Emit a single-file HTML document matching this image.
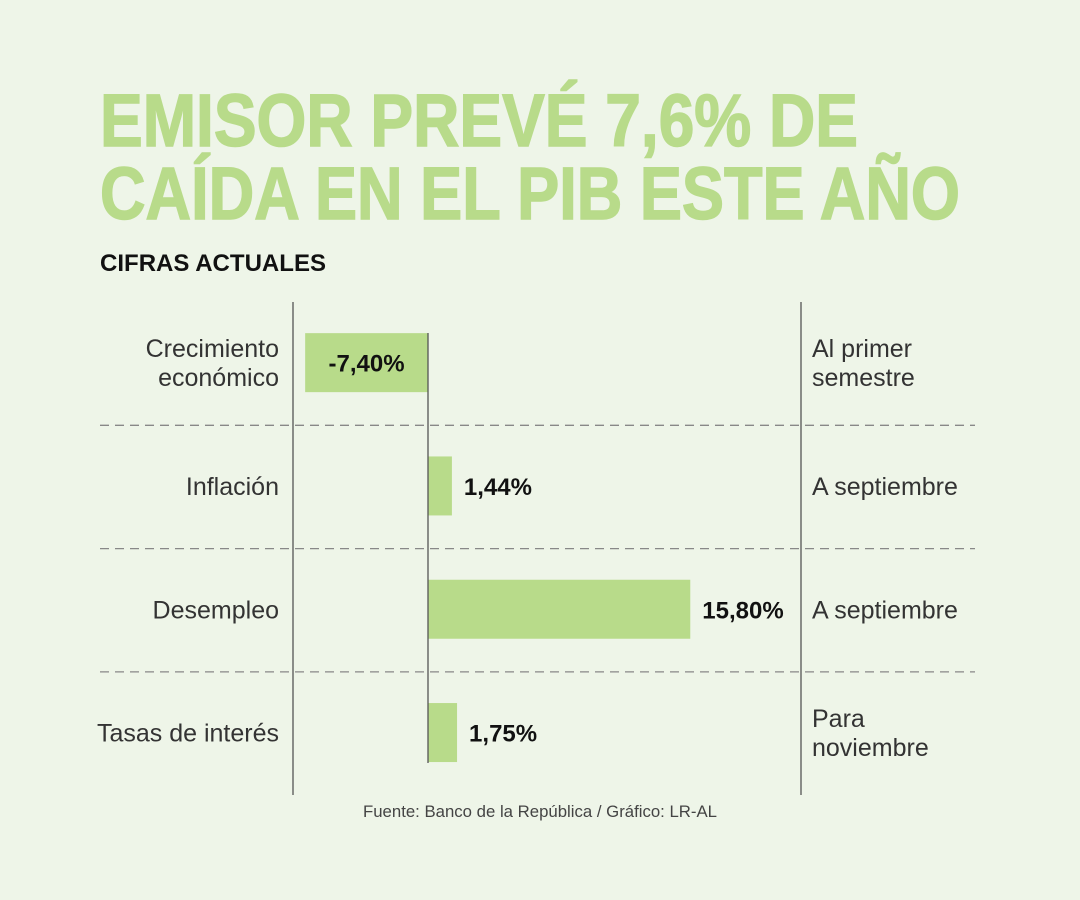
<!DOCTYPE html>
<html><head><meta charset="utf-8"><style>
body{margin:0;background:#eef5e8;}
svg{display:block;font-family:"Liberation Sans",sans-serif;}
</style></head><body>
<svg width="1080" height="900" viewBox="0 0 1080 900">
<rect width="1080" height="900" fill="#eef5e8"/>
<text x="100" y="146" font-size="74" font-weight="bold" fill="#b8db8a" stroke="#b8db8a" stroke-width="1.5" textLength="758" lengthAdjust="spacingAndGlyphs">EMISOR PREVÉ 7,6% DE</text>
<text x="100" y="219" font-size="74" font-weight="bold" fill="#b8db8a" stroke="#b8db8a" stroke-width="1.5" textLength="860" lengthAdjust="spacingAndGlyphs">CAÍDA EN EL PIB ESTE AÑO</text>
<text x="100" y="271" font-size="24" font-weight="bold" fill="#111" textLength="226" lengthAdjust="spacingAndGlyphs">CIFRAS ACTUALES</text>
<g id="grid"></g>
<g id="bars"></g>
<text x="540" y="817" font-size="17" fill="#444" text-anchor="middle" textLength="354" lengthAdjust="spacingAndGlyphs">Fuente: Banco de la República / Gráfico: LR-AL</text>
</svg>
<script>
const categories=[["Crecimiento","económico"],["Inflación"],["Desempleo"],["Tasas de interés"]];
const values=[-7.40,1.44,15.80,1.75];
const valueLabels=["-7,40%","1,44%","15,80%","1,75%"];
const notes=[["Al primer","semestre"],["A septiembre"],["A septiembre"],["Para","noviembre"]];
const NS="http://www.w3.org/2000/svg";
const x0=428, scale=16.6, rowTop=302, rowH=123.3, barH=59;
const xs=v=>x0+v*scale;
const grid=document.getElementById('grid'), bars=document.getElementById('bars');
function mk(tag,attrs,parent,txt){const e=document.createElementNS(NS,tag);for(const k in attrs)e.setAttribute(k,attrs[k]);if(txt!==undefined)e.textContent=txt;parent.appendChild(e);return e;}
let l=mk('line',{x1:293,x2:293,y1:302,y2:795,stroke:'#555','stroke-width':1.3},grid);


l=mk('line',{x1:801,x2:801,y1:302,y2:795,stroke:'#555','stroke-width':1.3},grid);


for(let i=1;i<values.length;i++){
  const y=rowTop+rowH*i;
  const d=mk('line',{x1:100,x2:975,y1:y,y2:y,stroke:'#888','stroke-width':1.3,'stroke-dasharray':'9,6'},grid);
  
  
}
values.forEach((v,i)=>{
  const cy=rowTop+rowH*i+rowH/2-1;
  const x1=Math.min(xs(0),xs(v)), w=Math.abs(xs(v)-xs(0));
  const r=mk('rect',{x:x1,y:cy-barH/2,width:w,height:barH,fill:'#b8db8a'},bars);
  
  
  const lab=categories[i];
  lab.forEach((t,j)=>{
    const tt=mk('text',{x:279,y:cy+9+(j-(lab.length-1)/2)*29,'font-size':25,fill:'#333','text-anchor':'end'},bars,t);
    
    
  });
  const nt=notes[i];
  nt.forEach((t,j)=>{
    const tt=mk('text',{x:812,y:cy+9+(j-(nt.length-1)/2)*29,'font-size':25,fill:'#333'},bars,t);
    
    
  });
  let vx,anchor;
  if(v<0){vx=(xs(v)+xs(0))/2;anchor='middle';}else{vx=xs(v)+12;anchor='start';}
  const vt=mk('text',{x:vx,y:cy+9,'font-size':24,'font-weight':'bold',fill:'#111','text-anchor':anchor},bars,valueLabels[i]);
  
  
});
l=mk('line',{x1:x0,x2:x0,y1:333,y2:763,stroke:'#555','stroke-width':1.3},bars);


</script>
</body></html>
